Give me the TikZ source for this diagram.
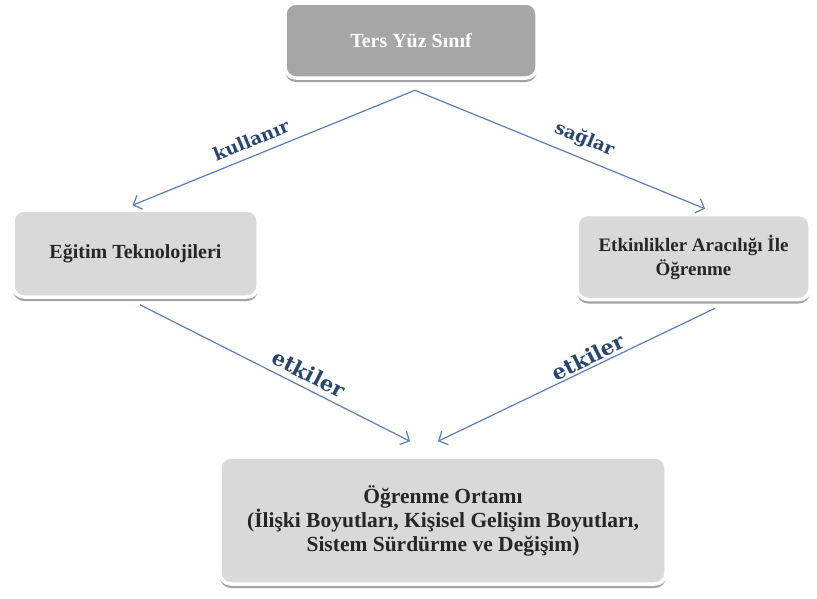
\documentclass[tikz,border=0pt]{standalone}
\usepackage{fontspec}
\setmainfont{Liberation Serif}
\newfontfamily\labfont{DejaVu Serif}
\usetikzlibrary{arrows.meta,shadows,calc}
\definecolor{topgray}{RGB}{166,166,166}
\definecolor{boxgray}{RGB}{217,217,217}
\definecolor{arrblue}{RGB}{88,126,190}
\definecolor{labblue}{RGB}{40,70,112}
\definecolor{txtdark}{RGB}{38,38,38}
\begin{document}
\begin{tikzpicture}[x=1pt,y=-1pt,
  box/.style={rectangle, rounded corners=11pt, draw=white, line width=3.5pt,
    fill=boxgray, text=txtdark, align=center, inner sep=0pt,
    font=\bfseries\fontsize{20}{24}\selectfont,
    drop shadow={shadow xshift=0pt, shadow yshift=-4pt, fill=black!60, opacity=0.6}},
  topbox/.style={box, fill=topgray, text=white},
  arr/.style={draw=arrblue, line width=1.2pt, -{Straight Barb[length=7pt,width=15pt]}},
  lab/.style={font=\labfont\bfseries\fontsize{18}{20}\selectfont, text=labblue, inner sep=2pt},
  biglab/.style={lab, font=\labfont\bfseries\fontsize{21}{23}\selectfont}]
\useasboundingbox (0,0) rectangle (817,598);
\fill[white] (0,0) rectangle (817,598);

\node[topbox, minimum width=252pt, minimum height=75pt] (top) at (411,40.5) {Ters Yüz Sınıf};
\node[box, minimum width=245pt, minimum height=87pt] (left) at (135.5,253.5) {Eğitim Teknolojileri};
\node[box, minimum width=233pt, minimum height=85pt, font=\bfseries\fontsize{19}{24}\selectfont] (right) at (693.5,257) {Etkinlikler Aracılığı İle\\Öğrenme};
\node[box, minimum width=446pt, minimum height=127pt, font=\bfseries\fontsize{21.5}{24}\selectfont] (bottom) at (443,520.5) {Öğrenme Ortamı\\(İlişki Boyutları, Kişisel Gelişim Boyutları,\\Sistem Sürdürme ve Değişim)};

\coordinate (apex) at ([xshift=4pt,yshift=-10.5pt]top.south);
\coordinate (lt) at ([xshift=-3pt,yshift=3pt]left.north);
\coordinate (rt) at ([xshift=11.5pt,yshift=4pt]right.north);
\coordinate (ls) at ([xshift=4.5pt,yshift=-6pt]left.south);
\coordinate (rs) at ([xshift=21.5pt,yshift=-7pt]right.south);
\coordinate (bl) at ([xshift=-33pt,yshift=14pt]bottom.north);
\coordinate (br) at ([xshift=-5pt,yshift=14pt]bottom.north);

\draw[arr] (apex) -- node[lab, pos=0.56, rotate=22, anchor=south, inner sep=8pt] {kullanır} (lt);
\draw[arr] (apex) -- node[lab, pos=0.56, rotate=-22, anchor=south, inner sep=9pt] {sağlar} (rt);
\draw[arr] (ls) -- node[biglab, pos=0.6, rotate=-27, anchor=south, inner sep=6pt] {etkiler} (bl);
\draw[arr] (rs) -- node[biglab, pos=0.44, rotate=26.5, anchor=south, inner sep=2pt] {etkiler} (br);
\end{tikzpicture}
\end{document}
